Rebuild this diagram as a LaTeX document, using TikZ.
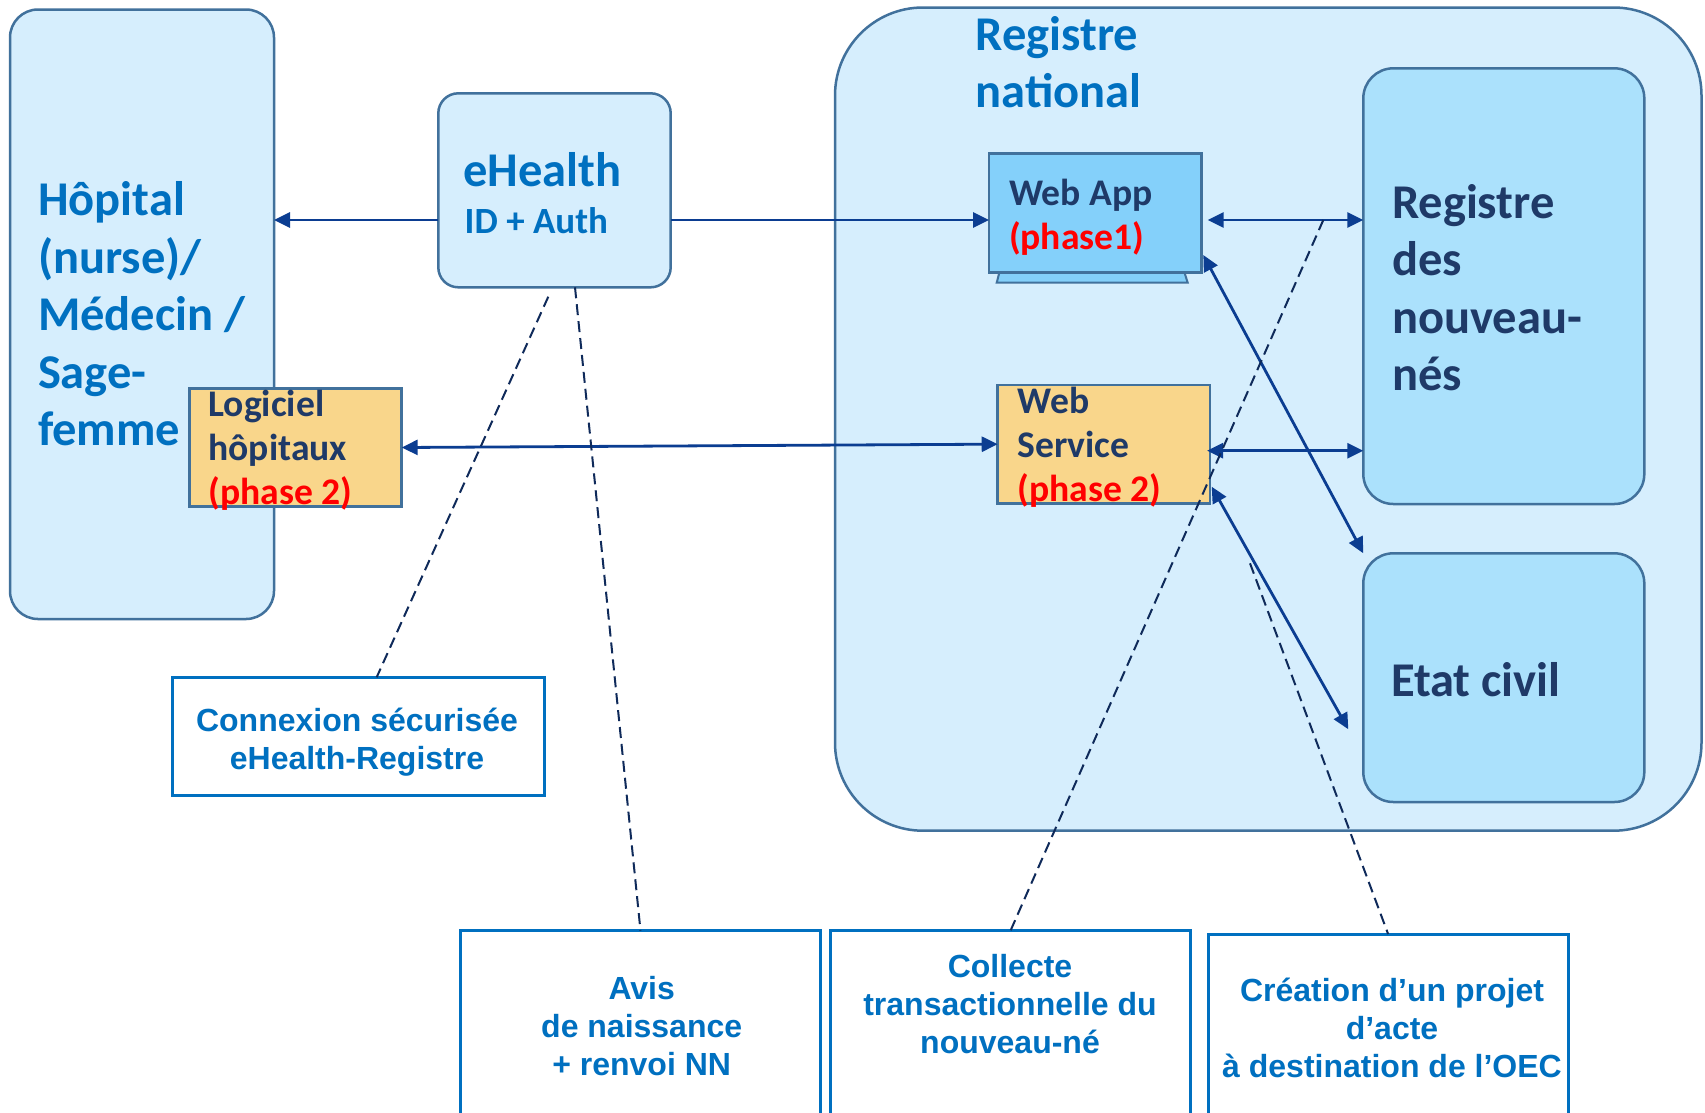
\documentclass[tikz,border=0pt]{standalone}
\usepackage{fontspec}
\newfontfamily\calfont{Carlito}
\newfontfamily\arfont{Liberation Sans}
\usetikzlibrary{arrows.meta}
\definecolor{lightbg}{HTML}{D6EEFD}
\definecolor{edge}{HTML}{41719C}
\definecolor{regfill}{HTML}{ABE1FC}
\definecolor{appfill}{HTML}{84D0FA}
\definecolor{orfill}{HTML}{F9D68B}
\definecolor{titleblue}{HTML}{0070C0}
\definecolor{navy}{HTML}{1F3A68}
\definecolor{arrowblue}{HTML}{0B3D91}
\definecolor{dashnavy}{HTML}{0F2A5A}
\definecolor{phasered}{HTML}{FF0000}
\begin{document}
\begin{tikzpicture}[x=1pt,y=-1pt,
 box/.style={draw=edge, line width=2.5pt, anchor=north west, inner sep=0pt, outer sep=0pt},
 bigtext/.style={anchor=base west, inner sep=0pt, outer sep=0pt, align=left, font=\calfont\bfseries\fontsize{48.5}{57.5}\selectfont},
 midtext/.style={anchor=base west, inner sep=0pt, outer sep=0pt, align=left, font=\calfont\bfseries\fontsize{37.6}{44}\selectfont, text=navy},
 captext/.style={anchor=base, inner sep=0pt, outer sep=0pt, align=center, font=\arfont\bfseries\fontsize{32}{38}\selectfont, text=titleblue},
 capbox/.style={draw=titleblue, line width=3pt, anchor=north west, inner sep=0pt, outer sep=0pt, fill=white},
 link/.style={draw=arrowblue, line width=2.8pt, -{Triangle[length=16pt,width=15pt]}},
 linktwo/.style={draw=arrowblue, line width=2.8pt, {Triangle[length=16pt,width=15pt]}-{Triangle[length=16pt,width=15pt]}},
 hint/.style={draw=dashnavy, line width=2pt, dash pattern=on 11pt off 6pt},
]
\useasboundingbox (0,0) rectangle (1705,1112);
\fill[white] (0,0) rectangle (1705,1112);
\clip (0,0) rectangle (1705,1112);

% boxes
\node[box, fill=lightbg, rounded corners=28pt, minimum width=264pt, minimum height=609.5pt] (hopital) at (10,9.5) {};
\node[box, fill=lightbg, rounded corners=20pt, minimum width=232.4pt, minimum height=194pt] (ehealth) at (438.3,93.3) {};
\node[box, fill=orfill, minimum width=212.4pt, minimum height=118.4pt] (logiciel) at (189.3,388.3) {};
\node[box, fill=lightbg, rounded corners=88pt, minimum width=866.5pt, minimum height=823.2pt] (national) at (835,7.5) {};
\filldraw[fill=appfill, draw=edge, line width=2pt] (999.3,272.7) -- (996.7,282.7) -- (1187.7,282.7) -- (1184.5,272.7) -- cycle;
\node[box, fill=appfill, minimum width=212.7pt, minimum height=119.4pt] (webapp) at (989,153.3) {};
\node[box, fill=orfill, minimum width=212.3pt, minimum height=118.3pt] (websvc) at (997.7,385) {};
\node[box, fill=regfill, rounded corners=30pt, minimum width=281pt, minimum height=435.7pt] (registre) at (1363.3,68.3) {};
\node[box, fill=regfill, rounded corners=30pt, minimum width=281pt, minimum height=248.7pt] (etat) at (1363.3,553.3) {};
\node[capbox, minimum width=371.7pt, minimum height=118.4pt] (connexion) at (172.3,677.3) {};
\node[capbox, minimum width=360.6pt, minimum height=250pt] (avis) at (460.2,930.7) {};
\node[capbox, minimum width=360pt, minimum height=250pt] (collecte) at (830.5,930.7) {};
\node[capbox, minimum width=359.8pt, minimum height=250pt] (creation) at (1208.2,934) {};

% texts (anchor base = baseline of the last line)
\node[bigtext, text=titleblue] (thop) at (38,445.5) {Hôpital\\(nurse)/\\Médecin /\\Sage-\\femme};
\node[bigtext, text=titleblue] (teh) at (463.5,186.5) {eHealth};
\node[anchor=base west, inner sep=0pt, font=\calfont\bfseries\fontsize{37}{44}\selectfont, text=titleblue] (tid) at (464.5,233.8) {ID + Auth};
\node[bigtext, text=titleblue, font=\calfont\bfseries\fontsize{48.5}{56.7}\selectfont] (treg) at (975.5,107.2) {Registre\\national};
\node[midtext] (tlog) at (208.5,504.9) {Logiciel\\hôpitaux\\\textcolor{phasered}{(phase 2)}};
\node[midtext] (tapp) at (1009,249.2) {Web App\\\textcolor{phasered}{(phase1)}};
\node[midtext] (tws) at (1017.5,501.2) {Web\\Service\\\textcolor{phasered}{(phase 2)}};
\node[bigtext, text=navy] (trn) at (1392,390.5) {Registre\\des\\nouveau-\\nés};
\node[bigtext, text=navy] (tec) at (1391,696.5) {Etat civil};
\node[captext] (tcx) at (357,769.9) {Connexion sécurisée\\eHealth-Registre};
\node[captext] (tav) at (641.7,1075.4) {Avis\\de naissance\\+ renvoi NN};
\node[captext] (tco) at (1010,1053.3) {Collecte\\transactionnelle du\\nouveau-né};
\node[captext] (tcr) at (1392,1077.2) {Création d’un projet\\d’acte\\à destination de l’OEC};

% connectors
\coordinate (rowA) at (0,220);
\coordinate (rowB) at (0,450.7);
\draw[link] (ehealth.west |- rowA) -- (hopital.east |- rowA);
\draw[link] (ehealth.east |- rowA) -- (webapp.west |- rowA);
\draw[linktwo] (logiciel.east) -- (websvc.west);
\draw[linktwo] ([xshift=6pt]webapp.east |- rowA) -- (registre.west |- rowA);
\draw[linktwo] ([xshift=-3pt]websvc.east |- rowB) -- (registre.west |- rowB);
\draw[linktwo] ([xshift=1.6pt,yshift=17.7pt]webapp.south east) -- (etat.north west);
\draw[linktwo] ([xshift=1.7pt,yshift=16.6pt]websvc.south east) -- ([xshift=-15pt,yshift=-51.6pt]etat.west);

% dashed hints
\coordinate (d3s) at (1323.3,220);
\coordinate (d4s) at (1250,563.3);
\draw[hint] ([xshift=-6.2pt,yshift=-9.4pt]ehealth.south) -- ([xshift=18.5pt]connexion.north);
\draw[hint] ([xshift=20.5pt]ehealth.south) -- (avis.north);
\draw[hint] (d3s) -- (collecte.north);
\draw[hint] (d4s) -- (creation.north);
\end{tikzpicture}
\end{document}
